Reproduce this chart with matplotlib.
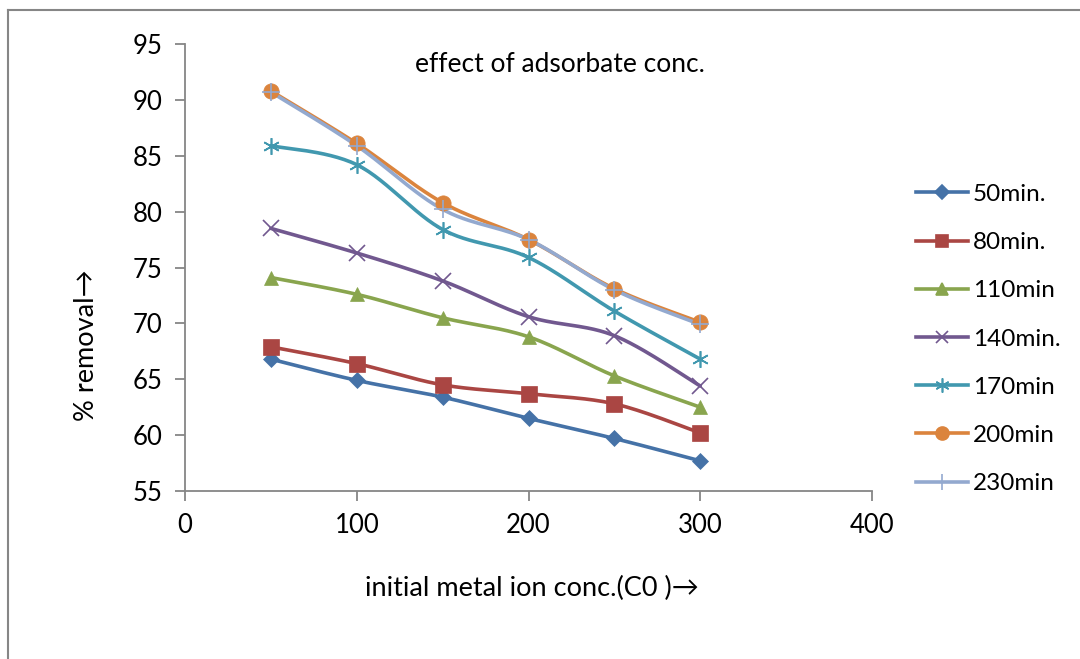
import numpy as np
import matplotlib
matplotlib.use("Agg")
import matplotlib.pyplot as plt
from matplotlib.lines import Line2D

plt.rcParams['font.family'] = ['Lato', 'DejaVu Sans']

conc = [50, 100, 150, 200, 250, 300]
series_names = ["50min.", "80min.", "110min", "140min.", "170min", "200min", "230min"]
s50 = [66.8, 64.9, 63.4, 61.5, 59.7, 57.7]
s80 = [67.9, 66.4, 64.5, 63.7, 62.8, 60.2]
s110 = [74.1, 72.6, 70.5, 68.8, 65.3, 62.5]
s140 = [78.5, 76.3, 73.8, 70.6, 68.9, 64.4]
s170 = [85.9, 84.2, 78.4, 75.9, 71.1, 66.8]
s200 = [90.8, 86.1, 80.8, 77.5, 73.1, 70.1]
s230 = [90.7, 85.9, 80.2, 77.5, 73.0, 69.9]
all_series = [s50, s80, s110, s140, s170, s200, s230]

colors = ["#4572A7", "#AA4643", "#89A54E", "#71588F", "#4198AF", "#DB843D", "#93A9CF"]
markers = ["D", "s", "^", "x", (6, 2, 0), "o", "+"]
msizes = [8, 11, 10, 11, 12, 11, 13]

def smooth(x, y, n=30):
    # Catmull-Rom style smoothing for drawing (Excel "smoothed line")
    x = np.asarray(x, float); y = np.asarray(y, float)
    P = np.column_stack([x, y])
    P = np.vstack([P[0], P, P[-1]])
    out = []
    t = np.linspace(0, 1, n)
    for i in range(1, len(P) - 2):
        p0, p1, p2, p3 = P[i - 1], P[i], P[i + 1], P[i + 2]
        m1 = (p2 - p0) / 6.0
        m2 = (p3 - p1) / 6.0
        c1 = p1 + m1
        c2 = p2 - m2
        seg = ((1 - t) ** 3)[:, None] * p1 + (3 * (1 - t) ** 2 * t)[:, None] * c1 \
            + (3 * (1 - t) * t ** 2)[:, None] * c2 + (t ** 3)[:, None] * p2
        out.append(seg if i == 1 else seg[1:])
    S = np.vstack(out)
    return S[:, 0], S[:, 1]

fig = plt.figure(figsize=(10.8, 6.59), dpi=100)
ax = fig.add_axes([185 / 1080, 1 - 491 / 659, (872 - 185) / 1080, (491 - 44) / 659])

for name, ys, c, m, ms in zip(series_names, all_series, colors, markers, msizes):
    sx, sy = smooth(conc, ys)
    ax.plot(sx, sy, color=c, lw=2.6, solid_capstyle='round', zorder=2)
    ax.plot(conc, ys, linestyle='none', marker=m, color=c, markersize=ms,
            markeredgewidth=1.2 if m in ("x", "+") or isinstance(m, tuple) else 0.5,
            markeredgecolor=c, zorder=3)

ax.set_xlim(0, 400)
ax.set_ylim(55, 95)
ax.set_xticks([0, 100, 200, 300, 400])
ax.set_yticks([55, 60, 65, 70, 75, 80, 85, 90, 95])
for sp in ['top', 'right']:
    ax.spines[sp].set_visible(False)
for sp in ['left', 'bottom']:
    ax.spines[sp].set_color('#868686')
    ax.spines[sp].set_linewidth(1.3)
ax.tick_params(axis='both', colors='#868686', length=7, width=1.3, labelsize=18.5,
               labelcolor='black')
ax.tick_params(axis='y', pad=9)
ax.tick_params(axis='x', pad=9)

fig.text(560 / 1080, 1 - 64 / 659, "effect of adsorbate conc.", fontsize=19,
         ha='center', va='center')

fig.text(86 / 1080, 1 - 345 / 659, "% removal\u2192", rotation=90, fontsize=19.5,
         ha='center', va='center')
fig.text(532 / 1080, 1 - 588 / 659, "initial metal ion conc.(C0 )\u2192", fontsize=19.5,
         ha='center', va='center')

handles = [Line2D([0], [0], color=c, lw=2.6, marker=m, markersize=ms * 0.85,
                  markeredgecolor=c, markeredgewidth=1.2)
           for c, m, ms in zip(colors, markers, msizes)]
fig.legend(handles, series_names, loc='center left',
           bbox_to_anchor=(916 / 1080, 1 - 339 / 659), frameon=False,
           borderaxespad=0, borderpad=0,
           fontsize=17.5, handlelength=2.15, labelspacing=1.12, handletextpad=0.2)

# outer chart frame
fig.add_artist(Line2D([8 / 1080, 8 / 1080], [0, 1 - 10 / 659], color='#868686', lw=1.5,
                      transform=fig.transFigure))
fig.add_artist(Line2D([8 / 1080, 1], [1 - 10 / 659, 1 - 10 / 659], color='#868686', lw=1.5,
                      transform=fig.transFigure))

fig.savefig("out.png", dpi=100)
